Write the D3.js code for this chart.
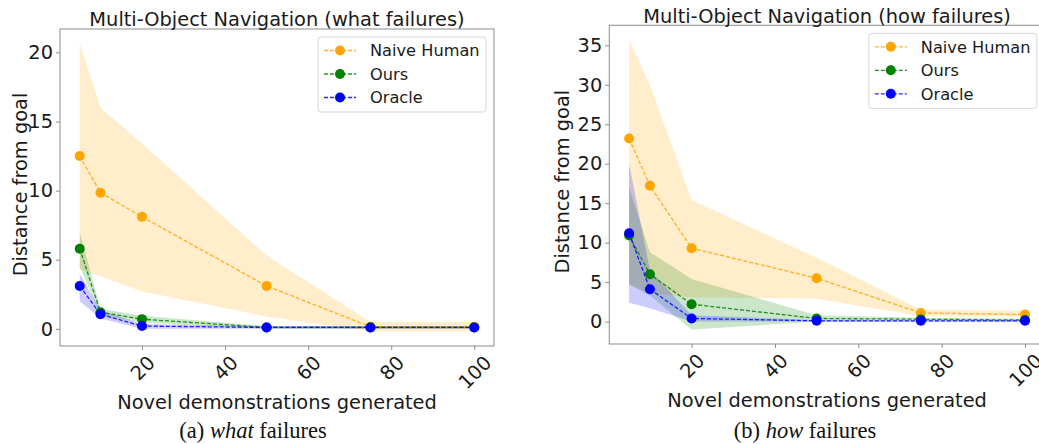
<!DOCTYPE html>
<html>
<head>
<meta charset="utf-8">
<script src="https://cdn.jsdelivr.net/npm/d3@7"></script>
<style>
  body { margin: 0; background: #fff; }
  svg { display: block; font-family: "DejaVu Sans", sans-serif; }
</style>
</head>
<body>
<svg id="chart" width="1039" height="444"></svg>
<script>
// x positions shared by both panels
const demos = [5, 10, 20, 50, 75, 100];
const xTicks = [20, 40, 60, 80, 100];
const seriesNames = ["Naive Human", "Ours", "Oracle"];
const seriesColors = ["#FFA500", "#008000", "#0000FF"];

// (a) what failures
const whatHuman = [12.5, 9.85, 8.1, 3.1, 0.15, 0.15];
const whatHumanLo = [4.3, 3.8, 2.7, 0.9, -0.2, -0.2];
const whatHumanHi = [20.65, 16.0, 13.4, 5.3, 0.5, 0.5];
const whatOurs = [5.8, 1.2, 0.7, 0.1, 0.1, 0.1];
const whatOursLo = [4.5, 1.0, 0.45, 0.0, 0.0, 0.0];
const whatOursHi = [7.0, 1.45, 0.95, 0.2, 0.2, 0.2];
const whatOracle = [3.1, 1.05, 0.2, 0.1, 0.1, 0.1];
const whatOracleLo = [2.0, 0.75, 0.0, 0.0, 0.0, 0.0];
const whatOracleHi = [4.0, 1.35, 0.35, 0.2, 0.2, 0.2];
const whatYTicks = [0, 5, 10, 15, 20];

// (b) how failures
const howHuman = [23.2, 17.2, 9.3, 5.5, 1.1, 0.9];
const howHumanLo = [4.7, 3.6, 3.1, 2.9, 0.7, 0.6];
const howHumanHi = [35.7, 30.0, 15.4, 8.1, 1.5, 1.4];
const howOurs = [10.9, 6.0, 2.2, 0.4, 0.3, 0.2];
const howOursLo = [4.7, 3.3, -1.0, 0.0, 0.0, 0.0];
const howOursHi = [17.0, 8.8, 5.4, 0.8, 0.5, 0.4];
const howOracle = [11.2, 4.1, 0.4, 0.1, 0.1, 0.1];
const howOracleLo = [2.4, 1.7, 0.0, 0.0, 0.0, 0.0];
const howOracleHi = [20.0, 6.5, 0.8, 0.2, 0.2, 0.2];
const howYTicks = [0, 5, 10, 15, 20, 25, 30, 35];

const svg = d3.select("#chart");

// matplotlib style 5% margins
function padDomain(lo, hi) {
  const m = (hi - lo) * 0.05;
  return [lo - m, hi + m];
}

function drawPanel(p) {
  const g = svg.append("g");
  const x = d3.scaleLinear().domain(padDomain(d3.min(demos), d3.max(demos))).range([p.left, p.right]);
  const allLo = d3.min(p.series, s => d3.min(s.lo));
  const allHi = d3.max(p.series, s => d3.max(s.hi));
  const y = d3.scaleLinear().domain(padDomain(allLo, allHi)).range([p.bottom, p.top]);

  // bands first (they sit under all the lines)
  const area = d3.area()
    .x((d, i) => x(demos[i]))
    .y0(d => y(d[0]))
    .y1(d => y(d[1]));
  p.series.forEach((s, k) => {
    g.append("path")
      .datum(s.lo.map((v, i) => [v, s.hi[i]]))
      .attr("d", area)
      .attr("fill", seriesColors[k])
      .attr("fill-opacity", 0.2);
  });

  const line = d3.line().x((d, i) => x(demos[i])).y(d => y(d));
  p.series.forEach((s, k) => {
    g.append("path")
      .datum(s.mean)
      .attr("d", line)
      .attr("fill", "none")
      .attr("stroke", seriesColors[k])
      .attr("stroke-width", 1.3)
      .attr("stroke-opacity", 0.85)
      .attr("stroke-dasharray", "4,2");
    g.selectAll(null).data(s.mean).enter().append("circle")
      .attr("cx", (d, i) => x(demos[i]))
      .attr("cy", d => y(d))
      .attr("r", 5)
      .attr("fill", seriesColors[k]);
  });

  // frame
  g.append("rect")
    .attr("x", p.left).attr("y", p.top)
    .attr("width", p.right - p.left).attr("height", p.bottom - p.top)
    .attr("fill", "none").attr("stroke", "#8c8c8c").attr("stroke-width", 1);

  // y axis
  const yAxis = g.append("g")
    .attr("transform", `translate(${p.left},0)`)
    .call(d3.axisLeft(y).tickValues(p.yTicks).tickSize(4).tickPadding(3).tickFormat(d3.format("d")));
  yAxis.select(".domain").remove();
  yAxis.selectAll(".tick line").attr("stroke", "#8c8c8c");
  yAxis.selectAll(".tick text")
    .attr("font-family", "DejaVu Sans")
    .attr("font-size", 19.4)
    .attr("fill", "#1a1a1a");

  // x axis with 45 degree labels
  const xAxis = g.append("g")
    .attr("transform", `translate(0,${p.bottom})`)
    .call(d3.axisBottom(x).tickValues(xTicks).tickSize(4).tickFormat(d3.format("d")));
  xAxis.select(".domain").remove();
  xAxis.selectAll(".tick line").attr("stroke", "#8c8c8c");
  xAxis.selectAll(".tick text").remove();
  xAxis.selectAll(".tick").each(function (d) {
    const t = d3.select(this).append("text")
      .attr("font-family", "DejaVu Sans")
      .attr("font-size", 19.4)
      .attr("fill", "#1a1a1a")
      .attr("text-anchor", "middle")
      .attr("dy", "0.36em")
      .text(d);
    const w = t.node().getComputedTextLength();
    const h = 19.4 * 0.9;
    const off = 7 + (w + h) / Math.SQRT2 / 2;
    t.attr("transform", `translate(0,${off}) rotate(-45)`);
  });

  const cx = (p.left + p.right) / 2;
  g.append("text")
    .attr("x", cx).attr("y", p.titleY)
    .attr("text-anchor", "middle")
    .attr("font-size", 19.4)
    .attr("fill", "#1a1a1a")
    .text(p.title);

  g.append("text")
    .attr("x", cx).attr("y", p.xLabelY)
    .attr("text-anchor", "middle")
    .attr("font-size", 19.4)
    .attr("fill", "#1a1a1a")
    .text("Novel demonstrations generated");

  g.append("text")
    .attr("transform", `translate(${p.yLabelX},${(p.top + p.bottom) / 2 - 3}) rotate(-90)`)
    .attr("text-anchor", "middle")
    .attr("font-size", 19.4)
    .attr("fill", "#1a1a1a")
    .text("Distance from goal");

  // legend
  const lx = p.right - 8 - 168, ly = p.top + 8;
  const leg = g.append("g").attr("transform", `translate(${lx},${ly})`);
  leg.append("rect")
    .attr("width", 168).attr("height", 75)
    .attr("rx", 3)
    .attr("fill", "#fff").attr("fill-opacity", 0.8)
    .attr("stroke", "#d6d6d6");
  seriesNames.forEach((name, k) => {
    const ey = 13.5 + k * 23.5;
    leg.append("line")
      .attr("x1", 6).attr("x2", 38).attr("y1", ey).attr("y2", ey)
      .attr("stroke", seriesColors[k]).attr("stroke-width", 1.3)
      .attr("stroke-opacity", 0.85).attr("stroke-dasharray", "4,2");
    leg.append("circle").attr("cx", 22).attr("cy", ey).attr("r", 5).attr("fill", seriesColors[k]);
    leg.append("text")
      .attr("x", 52).attr("y", ey).attr("dy", "0.36em")
      .attr("font-size", 16.2)
      .attr("fill", "#1a1a1a")
      .text(name);
  });

  // caption under the panel
  const cap = svg.append("text")
    .attr("x", p.captionX).attr("y", p.captionY)
    .attr("text-anchor", "middle")
    .attr("font-family", "Liberation Serif, Times New Roman, serif")
    .attr("font-size", 22.5)
    .attr("fill", "#111");
  cap.append("tspan").text(p.captionA + " ");
  cap.append("tspan").attr("font-style", "italic").text(p.captionB);
  cap.append("tspan").text(" failures");
}

drawPanel({
  left: 60, right: 494, top: 29, bottom: 346,
  title: "Multi-Object Navigation (what failures)", titleY: 26,
  xLabelY: 409, yLabelX: 27, yTicks: whatYTicks,
  captionX: 253, captionY: 438, captionA: "(a)", captionB: "what",
  series: [
    { mean: whatHuman, lo: whatHumanLo, hi: whatHumanHi },
    { mean: whatOurs, lo: whatOursLo, hi: whatOursHi },
    { mean: whatOracle, lo: whatOracleLo, hi: whatOracleHi }
  ]
});

drawPanel({
  left: 609.3, right: 1044.8, top: 25.3, bottom: 344,
  title: "Multi-Object Navigation (how failures)", titleY: 23,
  xLabelY: 407, yLabelX: 569, yTicks: howYTicks,
  captionX: 805, captionY: 438, captionA: "(b)", captionB: "how",
  series: [
    { mean: howHuman, lo: howHumanLo, hi: howHumanHi },
    { mean: howOurs, lo: howOursLo, hi: howOursHi },
    { mean: howOracle, lo: howOracleLo, hi: howOracleHi }
  ]
});
</script>
</body>
</html>
